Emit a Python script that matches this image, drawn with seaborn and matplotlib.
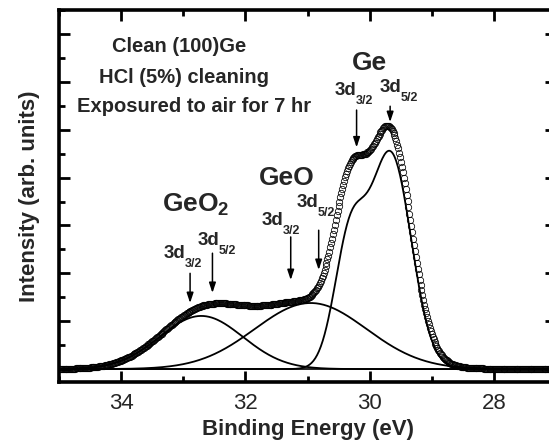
import numpy as np
import pandas as pd
import matplotlib
matplotlib.use("Agg")
import matplotlib.pyplot as plt
from matplotlib.ticker import MultipleLocator
import seaborn as sns

# Ge 3d core-level scan (binding energy in eV, descending)
scan_start, scan_stop, scan_step = 35.0, 27.0, 0.015

# Fitted Gaussian sub-peaks: chemical state, centre (eV), height (a.u.), sigma (eV)
peak_state = ["GeO2", "GeO", "Ge", "Ge"]
peak_center = [32.71, 30.95, 29.66, 30.32]
peak_height = [1.11, 1.38, 4.47, 2.60]
peak_sigma = [0.67, 0.90, 0.33, 0.25]
background_level = 0.0

state_order = ["GeO2", "GeO", "Ge"]

sns.set_style("ticks")
plt.rcParams["font.family"] = ["Liberation Sans", "DejaVu Sans"]
plt.rcParams["mathtext.fontset"] = "custom"
plt.rcParams["mathtext.rm"] = "Liberation Sans:bold"
plt.rcParams["mathtext.it"] = "Liberation Sans:bold"
plt.rcParams["mathtext.bf"] = "Liberation Sans:bold"
plt.rcParams["mathtext.default"] = "rm"

energy = np.arange(scan_start, scan_stop - 1e-9, -scan_step)

def gaussian(x, c, h, s):
    return h * np.exp(-(x - c) ** 2 / (2 * s ** 2))

# fitted components, one curve per chemical state
components = {st: np.zeros_like(energy) for st in state_order}
for st, c, h, s in zip(peak_state, peak_center, peak_height, peak_sigma):
    components[st] += gaussian(energy, c, h, s)

background = np.full_like(energy, background_level)
spectrum = background + sum(components.values())

comp_df = pd.concat(
    [pd.DataFrame({"energy": energy, "intensity": background + components[st], "state": st})
     for st in state_order],
    ignore_index=True,
)

fig = plt.figure(figsize=(5.49, 4.45), dpi=100)
ax = fig.add_axes([59 / 549, 63 / 445, 497 / 549, 372 / 445])

# background line
sns.lineplot(x=energy, y=background, ax=ax, color="black", linewidth=1.2, sort=False)
# fitted components
sns.lineplot(data=comp_df, x="energy", y="intensity", units="state", estimator=None,
             ax=ax, color="black", linewidth=1.3, sort=False, legend=False)
# measured points
sns.lineplot(x=energy, y=spectrum, ax=ax, linestyle="", marker="o", markersize=4.6,
             markerfacecolor="none", markeredgecolor="black", markeredgewidth=0.55,
             sort=False, zorder=3)

ax.set_xlim(35, 27)
ax.set_ylim(-0.27, 7.5)
ax.xaxis.set_major_locator(MultipleLocator(2))
ax.xaxis.set_minor_locator(MultipleLocator(1))
ax.yaxis.set_major_locator(MultipleLocator(1))
ax.yaxis.set_minor_locator(MultipleLocator(0.5))
ax.tick_params(which="both", direction="in", top=True, right=True, width=2, color="black")
ax.tick_params(which="major", length=8, pad=8, labelsize=16)
ax.tick_params(which="minor", length=4)
ax.tick_params(axis="y", labelleft=False)
for sp in ax.spines.values():
    sp.set_linewidth(2.6)
    sp.set_color("black")

ax.set_xlabel("Binding Energy (eV)", fontsize=16, fontweight="bold", labelpad=3.5)
ax.set_ylabel("Intensity (arb. units)", fontsize=16, fontweight="bold", labelpad=10)

# sample description
desc = ["Clean (100)Ge", "HCl (5%) cleaning", "Exposured to air for 7 hr"]
desc_x = [33.06, 32.98, 32.82]
desc_y = [6.74, 6.10, 5.49]
for t, x, y in zip(desc, desc_x, desc_y):
    ax.text(x, y, t, ha="center", va="center", fontsize=14.5, fontweight="bold")

# chemical-state labels
ax.text(33.34, 3.28, "GeO$_2$", ha="left", va="baseline", fontsize=19, fontweight="bold")
ax.text(31.79, 3.84, "GeO", ha="left", va="baseline", fontsize=19, fontweight="bold")
ax.text(30.29, 6.24, "Ge", ha="left", va="baseline", fontsize=19, fontweight="bold")

# spin-orbit labels (3d + lowered subscript) with arrows
so_sub = ["3/2", "5/2", "3/2", "5/2", "3/2", "5/2"]
so_text_x = [33.31, 32.77, 31.74, 31.18, 30.56, 29.84]
so_text_y = [2.32, 2.59, 3.01, 3.38, 5.72, 5.78]
arrow_x = [32.89, 32.53, 31.27, 30.82, 30.21, 29.67]
arrow_top = [2.00, 2.42, 2.76, 2.90, 5.41, 5.49]
arrow_tip = [1.38, 1.59, 1.86, 2.07, 4.63, 5.16]

for sub, tx, ty in zip(so_sub, so_text_x, so_text_y):
    ax.text(tx, ty, "3d", ha="left", va="baseline", fontsize=13.5, fontweight="bold")
    ax.annotate(sub, xy=(tx, ty), xytext=(15.0, -6.5), textcoords="offset points",
                ha="left", va="baseline", fontsize=9, fontweight="bold")
for x, y0, y1 in zip(arrow_x, arrow_top, arrow_tip):
    ax.annotate("", xy=(x, y1), xytext=(x, y0),
                arrowprops=dict(arrowstyle="-|>,head_length=0.6,head_width=0.2",
                                color="black", lw=1.1,
                                mutation_scale=10, shrinkA=0, shrinkB=0))

fig.savefig("out.png", dpi=100)
